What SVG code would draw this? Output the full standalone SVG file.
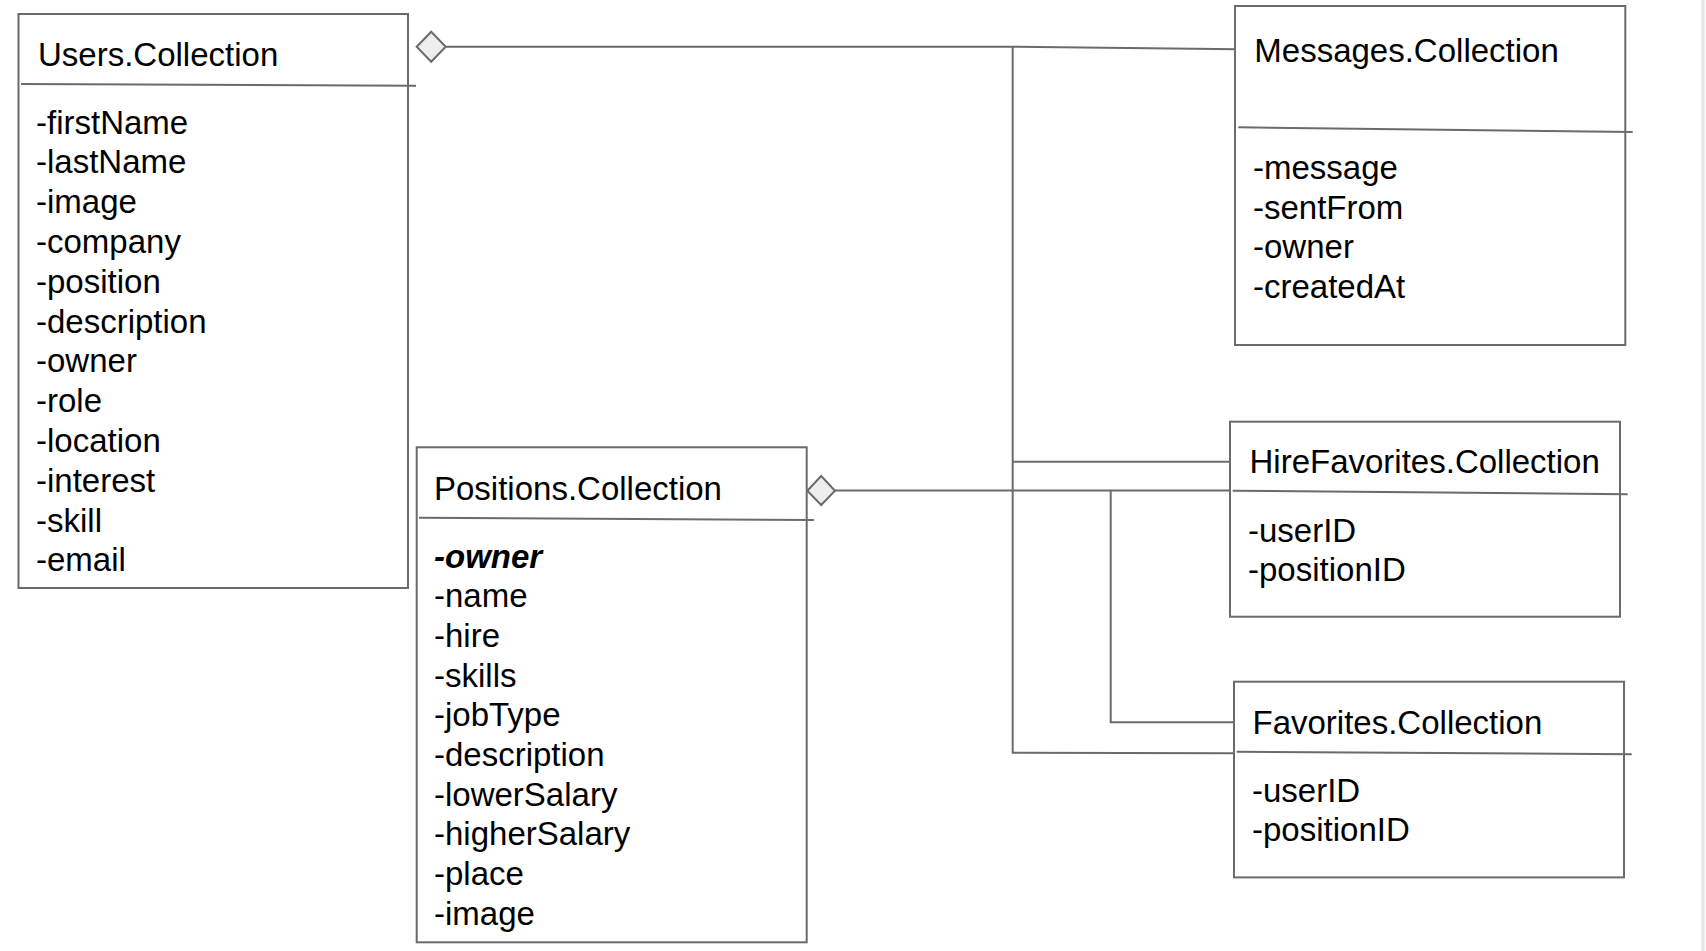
<svg xmlns="http://www.w3.org/2000/svg" width="1706" height="951" viewBox="0 0 1706 951">
<style>
.box{fill:#fff;stroke:#6b6b6b;stroke-width:2}
.div{stroke:#6b6b6b;stroke-width:2;fill:none}
.conn{stroke:#6b6b6b;stroke-width:2;fill:none}
.dia{fill:#eeeeee;stroke:#6b6b6b;stroke-width:2}
text{font-family:"Liberation Sans",Arial,sans-serif;font-size:33px;fill:#000}
.bi{font-weight:bold;font-style:italic}
</style>
<rect x="0" y="0" width="1706" height="951" fill="#fff"/>
<line x1="1703" y1="0" x2="1703" y2="951" stroke="#e4e4e4" stroke-width="3"/>
<g id="connectors">
<path class="conn" d="M445.7,46.7 L1012.7,46.7 L1238,49.3"/>
<path class="conn" d="M1012.7,46.7 L1012.7,752.7 L1233,753.3"/>
<path class="conn" d="M1012.7,461.7 L1233,461.7"/>
<path class="conn" d="M835,490.5 L1230,490.5"/>
<path class="conn" d="M1110.7,490.5 L1110.7,722.3 L1237,722.3"/>
<polygon class="dia" points="416.7,46.7 431.2,31.7 445.7,46.7 431.2,61.7"/>
<polygon class="dia" points="807.3,490.7 821.2,476 835,490.7 821.2,505"/>
</g>
<g id="users">
<rect class="box" x="18.5" y="14" width="389.5" height="574"/>
<line class="div" x1="21" y1="84" x2="416" y2="85.7"/>
<text x="38" y="66">Users.Collection</text>
<text x="36" y="133.5">-firstName</text>
<text x="36" y="173.3">-lastName</text>
<text x="36" y="213.1">-image</text>
<text x="36" y="252.9">-company</text>
<text x="36" y="292.7">-position</text>
<text x="36" y="332.5">-description</text>
<text x="36" y="372.3">-owner</text>
<text x="36" y="412.1">-role</text>
<text x="36" y="451.9">-location</text>
<text x="36" y="491.7">-interest</text>
<text x="36" y="531.5">-skill</text>
<text x="36" y="571.3">-email</text>
</g>
<g id="positions">
<rect class="box" x="416.7" y="447.3" width="390" height="495"/>
<line class="div" x1="419" y1="517.7" x2="814" y2="520"/>
<text x="434" y="500.3">Positions.Collection</text>
<text class="bi" x="434" y="567.5">-owner</text>
<text x="434" y="607.2">-name</text>
<text x="434" y="646.9">-hire</text>
<text x="434" y="686.6">-skills</text>
<text x="434" y="726.3">-jobType</text>
<text x="434" y="766">-description</text>
<text x="434" y="805.7">-lowerSalary</text>
<text x="434" y="845.4">-higherSalary</text>
<text x="434" y="885.1">-place</text>
<text x="434" y="924.8">-image</text>
</g>
<g id="messages">
<rect class="box" x="1235" y="6" width="390.3" height="339"/>
<line class="div" x1="1238.3" y1="127.3" x2="1632.7" y2="132"/>
<text x="1254.3" y="62">Messages.Collection</text>
<text x="1253" y="179">-message</text>
<text x="1253" y="218.5">-sentFrom</text>
<text x="1253" y="258">-owner</text>
<text x="1253" y="297.5">-createdAt</text>
</g>
<g id="hirefavorites">
<rect class="box" x="1230" y="421.7" width="390" height="195"/>
<line class="div" x1="1232.7" y1="490.7" x2="1627.7" y2="494.3"/>
<text x="1249.5" y="472.5">HireFavorites.Collection</text>
<text x="1248" y="542.3">-userID</text>
<text x="1248" y="581">-positionID</text>
</g>
<g id="favorites">
<rect class="box" x="1234" y="681.7" width="390" height="195.7"/>
<line class="div" x1="1236.7" y1="751.7" x2="1631.7" y2="754.3"/>
<text x="1252.5" y="734">Favorites.Collection</text>
<text x="1252" y="802.3">-userID</text>
<text x="1252" y="841.3">-positionID</text>
</g>
</svg>
